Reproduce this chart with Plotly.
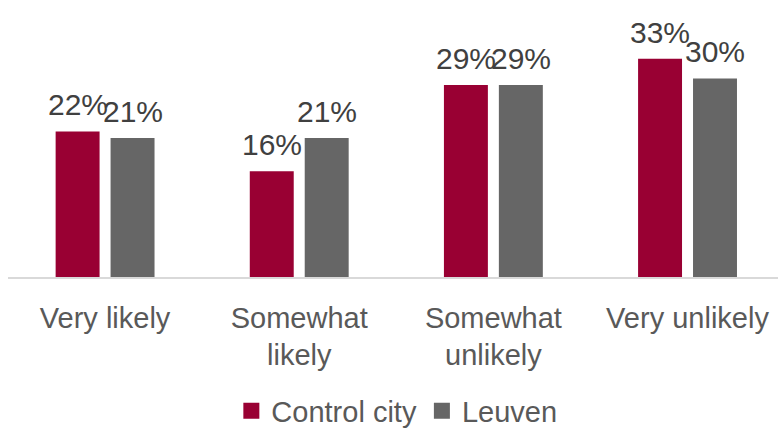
import plotly.graph_objects as go

categories = ["Very likely", "Somewhat<br>likely", "Somewhat<br>unlikely", "Very unlikely"]
control_city = [22, 16, 29, 33]
leuven = [21, 21, 29, 30]
series_names = ["Control city", "Leuven"]
series_colors = ["#990033", "#666666"]

fig = go.Figure()
for name, vals, col in zip(series_names, [control_city, leuven], series_colors):
    fig.add_trace(go.Bar(
        x=categories, y=vals, name=name, marker_color=col,
        marker_line_width=0, showlegend=False, legendgroup=name,
    ))
    # legend entry with a larger square swatch
    fig.add_trace(go.Scatter(
        x=[None], y=[None], mode="markers", name=name, legendgroup=name,
        marker=dict(symbol="square", size=17, color=col),
    ))

# value labels above each bar
slot_px = 27.5
for vals, shift in [(control_city, -slot_px), (leuven, slot_px)]:
    for cat, v in zip(categories, vals):
        fig.add_annotation(
            x=cat, y=v, text=f"{v}%", showarrow=False,
            xshift=shift, yshift=8, yanchor="bottom",
            font=dict(family="Liberation Sans, Arial, sans-serif", size=30, color="#404040"),
        )

fig.update_layout(
    width=778, height=428,
    margin=dict(l=7.5, r=0, t=10, b=150.5, autoexpand=False),
    paper_bgcolor="white", plot_bgcolor="white",
    barmode="group", bargap=0.434, bargroupgap=0.2,
    showlegend=True,
    legend=dict(
        orientation="h", xanchor="center", x=0.505,
        yref="container", yanchor="middle", y=0.04,
        font=dict(family="Liberation Sans, Arial, sans-serif", size=29, color="#595959"),
        itemclick=False, itemdoubleclick=False,
    ),
    xaxis=dict(
        range=[-0.5, 3.466], showgrid=False, zeroline=False,
        showline=True, linecolor="#d9d9d9", linewidth=1.5,
        ticks="", ticklabelstandoff=14,
        tickfont=dict(family="Liberation Sans, Arial, sans-serif", size=29, color="#595959"),
    ),
    yaxis=dict(
        range=[0, 40.35], visible=False, showgrid=False, zeroline=False,
    ),
)

fig.write_html("out.html")
